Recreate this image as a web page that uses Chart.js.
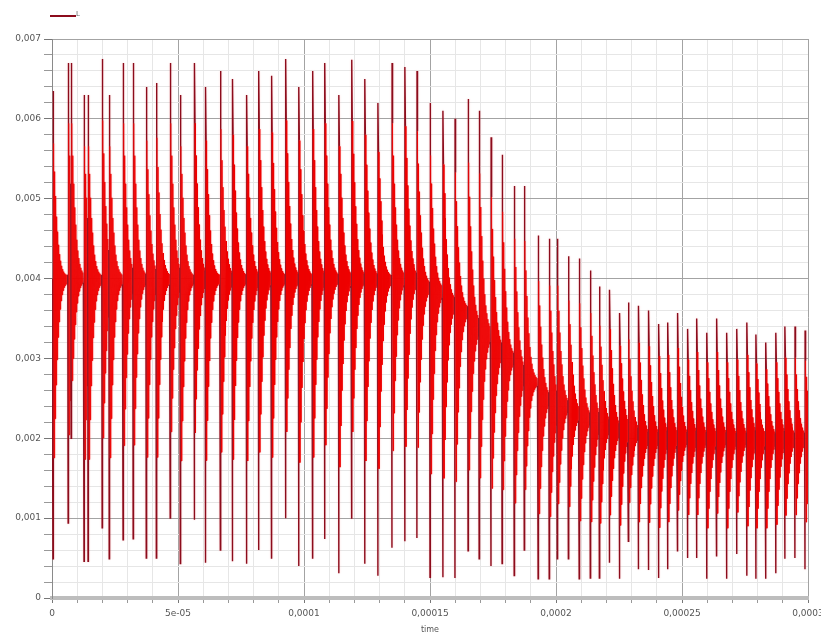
<!DOCTYPE html>
<html><head><meta charset="utf-8">
<script src="https://cdn.jsdelivr.net/npm/chart.js@4/dist/chart.umd.min.js"></script>
<style>html,body{margin:0;padding:0;background:#fff;overflow:hidden}canvas{display:block}</style>
</head><body>
<canvas id="c" width="821" height="635"></canvas>
<script>
const seriesName = 'L';
// spike instants (microseconds)
const spikeTimeUs = [0.4, 6.4, 7.6, 12.7, 14.3, 19.9, 22.7, 28.2, 32.2, 37.4, 41.4, 46.9, 50.9, 56.5, 60.9, 66.8, 71.6, 77.2, 82.0, 87.1,
  92.7, 97.9, 103.4, 108.2, 113.8, 118.9, 124.1, 129.3, 134.9, 140.0, 144.8, 150.0, 155.1, 159.9, 165.1, 169.5, 174.2, 178.6, 183.4, 187.4,
  192.9, 197.3, 200.5, 204.9, 209.2, 213.6, 217.2, 221.2, 225.2, 228.7, 232.7, 236.7, 240.7, 244.3, 248.2, 252.2, 255.8, 259.8, 263.7, 267.7,
  271.7, 275.7, 279.3, 283.2, 287.2, 290.8, 294.8, 298.8];
// spike maxima
const spikeHigh = [0.00635, 0.0067, 0.0067, 0.0063, 0.0063, 0.00675, 0.0063, 0.0067, 0.0067, 0.0064, 0.00645, 0.0067, 0.0063, 0.0067, 0.0064, 0.0066, 0.0065, 0.0063, 0.0066, 0.00654,
  0.00675, 0.0064, 0.0066, 0.0067, 0.0063, 0.00674, 0.0065, 0.0062, 0.0067, 0.00665, 0.0066, 0.0062, 0.0061, 0.0060, 0.00625, 0.0061, 0.00577, 0.00555, 0.00516, 0.00516,
  0.00454, 0.0045, 0.0045, 0.00428, 0.00425, 0.0041, 0.0039, 0.00386, 0.00357, 0.0037, 0.00366, 0.0036, 0.00343, 0.00345, 0.00357, 0.00337, 0.0035, 0.00332, 0.0035, 0.00332,
  0.00337, 0.00345, 0.0033, 0.0032, 0.00332, 0.0034, 0.0034, 0.00335];
// spike minima
const spikeLow = [0.00049, 0.00094, 0.0020, 0.00046, 0.00046, 0.00088, 0.00049, 0.00073, 0.00074, 0.0005, 0.0005, 0.001, 0.00043, 0.00098, 0.00044, 0.0006, 0.00046, 0.00043, 0.0006, 0.0005,
  0.001, 0.0004, 0.0005, 0.00074, 0.00031, 0.001, 0.00043, 0.00028, 0.00063, 0.00071, 0.00075, 0.00026, 0.00026, 0.00025, 0.00059, 0.00049, 0.0004, 0.00043, 0.00028, 0.0006,
  0.00024, 0.00024, 0.00049, 0.00049, 0.00024, 0.00025, 0.00025, 0.00044, 0.00024, 0.00071, 0.00036, 0.00035, 0.00025, 0.00036, 0.00059, 0.0005, 0.0005, 0.00024, 0.00053, 0.00024,
  0.00055, 0.00028, 0.00024, 0.00024, 0.00031, 0.00049, 0.0005, 0.00036];
// level the ringing settles to after each spike
const spikeBase = [0.004, 0.004, 0.004, 0.004, 0.004, 0.004, 0.004, 0.004, 0.004, 0.004, 0.004, 0.004, 0.004, 0.004, 0.004, 0.004, 0.004, 0.004, 0.004, 0.004,
  0.004, 0.004, 0.004, 0.004, 0.004, 0.004, 0.004, 0.004, 0.004, 0.004, 0.0039, 0.00385, 0.0037, 0.0036, 0.0034, 0.0033, 0.0031, 0.003, 0.0028, 0.0027,
  0.0025, 0.0024, 0.0024, 0.0023, 0.00225, 0.0022, 0.00215, 0.0021, 0.0021, 0.00205, 0.002, 0.002, 0.002, 0.002, 0.002, 0.002, 0.002, 0.002, 0.002, 0.002,
  0.002, 0.002, 0.002, 0.002, 0.002, 0.002, 0.002, 0.002];
// relative amplitude of the ringing after each spike (one entry per 0.2 us)
const ringEnvelope = [0.72, 0.64, 0.57, 0.5, 0.44, 0.38, 0.33, 0.29, 0.25, 0.21, 0.18, 0.155, 0.13, 0.11, 0.095, 0.08, 0.068, 0.058, 0.05, 0.043,
  0.037, 0.032, 0.028, 0.025, 0.022, 0.02, 0.02, 0.02, 0.02, 0.02];
const ringStepUs = 0.2;
const xTickLabels = ['0', '5e-05', '0,0001', '0,00015', '0,0002', '0,00025', '0,0003'];
const yTickLabels = ['0', '0,001', '0,002', '0,003', '0,004', '0,005', '0,006', '0,007'];
const axisTitleX = 'time';

// build the point list
const points = [{x: 0, y: spikeBase[0]}];
const kind = ['b'];
for (let k = 0; k < spikeTimeUs.length; k++) {
  const t = spikeTimeUs[k], b = spikeBase[k], hi = spikeHigh[k], lo = spikeLow[k];
  const next = k + 1 < spikeTimeUs.length ? spikeTimeUs[k + 1] : 301;
  points.push({x: t * 1e-6, y: lo}); kind.push('lo');
  points.push({x: (t + 0.05) * 1e-6, y: hi}); kind.push('hi');
  for (let i = 0; i < ringEnvelope.length; i++) {
    const tt = t + 0.05 + (i + 1) * ringStepUs;
    if (tt >= next - 0.1) break;
    const up = i % 2 === 0;
    const y = up ? b + ringEnvelope[i] * (hi - b) : b - ringEnvelope[i] * (b - lo);
    points.push({x: tt * 1e-6, y: y}); kind.push('r');
  }
}

const dark = 'rgb(140,12,28)';
const bright = 'rgb(238,0,0)';
function isSpikeSeg(c) { return kind[c.p1DataIndex] === 'lo' || kind[c.p1DataIndex] === 'hi' || kind[c.p0DataIndex] === 'hi'; }
function isMajorX(v) { return Math.abs(v / 5e-5 - Math.round(v / 5e-5)) < 1e-6; }
function isMajorY(v) { return Math.abs(v / 1e-3 - Math.round(v / 1e-3)) < 1e-6; }

const legendPlugin = {
  id: 'topLegend',
  beforeDatasetsDraw(chart) {
    const c = chart.ctx;
    c.save();
    c.shadowColor = 'rgba(255,130,130,0.4)';
    c.shadowBlur = 2;
  },
  afterDatasetsDraw(chart) {
    chart.ctx.restore();
  },
  afterDraw(chart) {
    const c = chart.ctx;
    c.save();
    c.strokeStyle = dark; c.lineWidth = 2;
    c.beginPath(); c.moveTo(50, 16); c.lineTo(76, 16); c.stroke();
    c.fillStyle = '#666'; c.font = '7px "DejaVu Sans"'; c.textBaseline = 'middle';
    c.fillText(chart.data.datasets[0].label, 76, 14);
    c.restore();
  }
};

const font = {family: '"DejaVu Sans", sans-serif', size: 9};
new Chart(document.getElementById('c'), {
  type: 'line',
  data: {datasets: [{
    label: seriesName,
    data: points,
    parsing: false,
    borderColor: bright,
    borderWidth: 1,
    pointRadius: 0,
    tension: 0,
    fill: false,
    segment: {
      borderColor: c => isSpikeSeg(c) ? dark : bright,
      borderWidth: c => isSpikeSeg(c) ? 1.4 : 1
    }
  }]},
  options: {
    responsive: false,
    devicePixelRatio: 1,
    animation: false,
    events: [],
    layout: {padding: {top: 39, right: 13, left: 0, bottom: 0}},
    plugins: {legend: {display: false}, tooltip: {enabled: false}},
    scales: {
      x: {
        type: 'linear', min: 0, max: 0.0003,
        afterFit: s => { s.height = 37; s.paddingRight = 0; s.paddingLeft = 0; },
        ticks: {
          stepSize: 0.00001, autoSkip: false, maxTicksLimit: 100, maxRotation: 0, minRotation: 0, padding: 5,
          font: font, color: '#555',
          callback: v => isMajorX(v) ? xTickLabels[Math.round(v / 5e-5)] : ''
        },
        grid: {
          color: c => (c.tick && isMajorX(c.tick.value)) ? '#a3a3a3' : '#e6e6e6',
          tickColor: c => (c.tick && isMajorX(c.tick.value)) ? '#777' : '#999',
          tickLength: 5
        },
        border: {display: true, color: '#bdbdbd', width: 4},
        title: {display: true, text: axisTitleX, font: {family: '"DejaVu Sans", sans-serif', size: 8}, color: '#555', padding: {top: 0, bottom: 0}}
      },
      y: {
        type: 'linear', min: 0, max: 0.007,
        afterFit: s => { s.width = 52; },
        ticks: {
          stepSize: 0.0002, autoSkip: false, maxTicksLimit: 100, padding: 3,
          font: font, color: '#555',
          callback: v => isMajorY(v) ? yTickLabels[Math.round(v / 1e-3)] : ''
        },
        grid: {
          color: c => (c.tick && isMajorY(c.tick.value)) ? '#a3a3a3' : '#e6e6e6',
          tickColor: c => (c.tick && isMajorY(c.tick.value)) ? '#777' : '#999',
          tickLength: 8
        },
        border: {display: true, color: '#8a8a8a', width: 1}
      }
    }
  },
  plugins: [legendPlugin]
});
</script>
</body></html>
